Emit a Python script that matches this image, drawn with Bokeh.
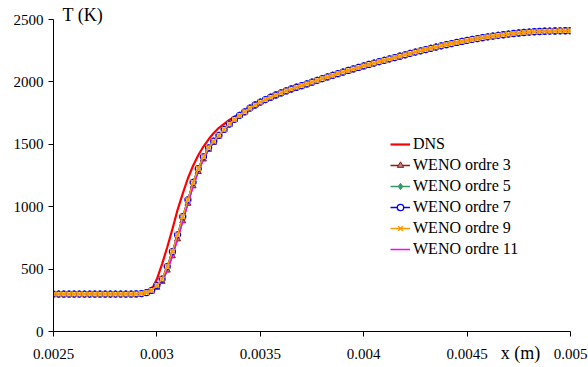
from bokeh.plotting import figure
from bokeh.models import (Legend, LegendItem, Title, FixedTicker, Range1d,
                          CustomJSTickFormatter, LinearAxis)
from bokeh.embed import file_html
from bokeh.resources import INLINE

# ---------------- data ----------------
x_ticks = [0.0025, 0.003, 0.0035, 0.004, 0.0045, 0.005]
x_tick_labels = ["0.0025", "0.003", "0.0035", "0.004", "0.0045", "0.005"]
y_ticks = [0, 500, 1000, 1500, 2000, 2500]

x_dns = [0.0025, 0.0028, 0.0029, 0.00295, 0.002975, 0.003, 0.003025, 0.00305, 0.003075,
         0.0031, 0.003125, 0.00315, 0.003175, 0.0032, 0.003225, 0.00325, 0.003275, 0.0033,
         0.00335, 0.0034, 0.00345, 0.0035, 0.0036, 0.0037, 0.0038, 0.0039, 0.004, 0.0042,
         0.0044, 0.0046, 0.0048, 0.005]
t_dns = [300, 300, 301, 308, 335, 420, 540, 675, 820,
         975, 1105, 1228, 1328, 1412, 1482, 1540, 1590, 1632,
         1695, 1745, 1792, 1838, 1912, 1970, 2026, 2079, 2128, 2217,
         2298, 2361, 2399, 2410]

x_weno = [0.0025, 0.002525, 0.00255, 0.002575, 0.0026, 0.002625, 0.00265, 0.002675,
          0.0027, 0.002725, 0.00275, 0.002775, 0.0028, 0.002825, 0.00285, 0.002875,
          0.0029, 0.002925, 0.00295, 0.002975, 0.003, 0.003025, 0.00305, 0.003075,
          0.0031, 0.003125, 0.00315, 0.003175, 0.0032, 0.003225, 0.00325, 0.003275,
          0.0033, 0.003325, 0.00335, 0.003375, 0.0034, 0.003425, 0.00345, 0.003475,
          0.0035, 0.003525, 0.00355, 0.003575, 0.0036, 0.003625, 0.00365, 0.003675,
          0.0037, 0.003725, 0.00375, 0.003775, 0.0038, 0.003825, 0.00385, 0.003875,
          0.0039, 0.003925, 0.00395, 0.003975, 0.004, 0.004025, 0.00405, 0.004075,
          0.0041, 0.004125, 0.00415, 0.004175, 0.0042, 0.004225, 0.00425, 0.004275,
          0.0043, 0.004325, 0.00435, 0.004375, 0.0044, 0.004425, 0.00445, 0.004475,
          0.0045, 0.004525, 0.00455, 0.004575, 0.0046, 0.004625, 0.00465, 0.004675,
          0.0047, 0.004725, 0.00475, 0.004775, 0.0048, 0.004825, 0.00485, 0.004875,
          0.0049, 0.004925, 0.00495, 0.004975, 0.005]

# WENO ordres 5, 7, 9 (superposed)
t_weno_579 = [300, 300, 300, 300, 300, 300, 300, 300,
              300, 300, 300, 300, 300, 300, 300, 300,
              301, 304, 312, 330, 370, 420, 520, 640,
              775, 920, 1055, 1195, 1305, 1400, 1472, 1525,
              1572, 1620, 1662, 1700, 1732, 1760, 1790, 1815,
              1838, 1858, 1877, 1895, 1912, 1928, 1943, 1957,
              1970, 1984, 1998, 2012, 2026, 2040, 2053, 2066,
              2079, 2092, 2104, 2116, 2128, 2140, 2151, 2162,
              2173, 2184, 2195, 2206, 2217, 2228, 2239, 2249,
              2259, 2269, 2279, 2289, 2298, 2307, 2316, 2324,
              2332, 2340, 2347, 2354, 2361, 2367, 2373, 2378,
              2383, 2388, 2392, 2396, 2399, 2402, 2404, 2406,
              2407, 2408, 2409, 2410, 2410]

# WENO ordres 3, 11 (slightly delayed front)
t_weno_3_11 = [300, 300, 300, 300, 300, 300, 300, 300,
               300, 300, 300, 300, 300, 300, 300, 300,
               300, 303, 309, 322, 352, 400, 490, 605,
               740, 885, 1025, 1165, 1280, 1380, 1458, 1515,
               1565, 1614, 1657, 1696, 1729, 1760, 1790, 1815,
               1838, 1858, 1877, 1895, 1912, 1928, 1943, 1957,
               1970, 1984, 1998, 2012, 2026, 2040, 2053, 2066,
               2079, 2092, 2104, 2116, 2128, 2140, 2151, 2162,
               2173, 2184, 2195, 2206, 2217, 2228, 2239, 2249,
               2259, 2269, 2279, 2289, 2298, 2307, 2316, 2324,
               2332, 2340, 2347, 2354, 2361, 2367, 2373, 2378,
               2383, 2388, 2392, 2396, 2399, 2402, 2404, 2406,
               2407, 2408, 2409, 2410, 2410]

series_names = ["DNS", "WENO ordre 3", "WENO ordre 5", "WENO ordre 7", "WENO ordre 9", "WENO ordre 11"]
y_title = "T (K)"
x_title = "x (m)"

FONT = "Liberation Serif"

p = figure(frame_width=517, frame_height=312,
           x_range=Range1d(0.0025, 0.005), y_range=Range1d(0, 2500),
           output_backend="svg", toolbar_location=None,
           min_border_left=53, min_border_right=18, min_border_top=19, min_border_bottom=36)
p.background_fill_color = "white"
p.border_fill_color = "white"
p.outline_line_color = None
p.xgrid.visible = False
p.ygrid.visible = False

for ax in (p.xaxis[0], p.yaxis[0]):
    ax.axis_line_color = "black"
    ax.axis_line_width = 1
    ax.major_tick_line_color = "black"
    ax.major_tick_out = 5
    ax.major_tick_in = 0
    ax.minor_tick_line_color = None
    ax.major_label_text_font = FONT
    ax.major_label_text_font_size = "15px"
    ax.major_label_text_color = "black"

p.xaxis.ticker = FixedTicker(ticks=x_ticks)
p.xaxis.formatter = CustomJSTickFormatter(args=dict(labels=x_tick_labels), code="return labels[index];")
p.xaxis.major_label_standoff = 12
p.yaxis.ticker = FixedTicker(ticks=y_ticks)
p.yaxis.major_label_standoff = 5

# second (label-only) axis carrying the x title between the last two tick labels
x_title_axis = LinearAxis(ticker=FixedTicker(ticks=[0.004758]),
                          formatter=CustomJSTickFormatter(args=dict(t=x_title), code="return t;"),
                          axis_line_color=None, major_tick_line_color=None,
                          minor_tick_line_color=None, major_tick_out=0, major_tick_in=0,
                          major_label_standoff=-19, major_label_text_font=FONT,
                          major_label_text_font_size="18px", major_label_text_color="black")
p.add_layout(x_title_axis, "below")

r_dns = p.line(x_dns, t_dns, line_color="#FF0000", line_width=2.2)

r3l = p.line(x_weno, t_weno_3_11, line_color="#8B1A1A", line_width=1.5)
r3m = p.scatter(x_weno, t_weno_3_11, marker="triangle", size=6, line_color="#8B1A1A",
                fill_color="#C08080", line_width=1)
r11 = p.line(x_weno, t_weno_3_11, line_color="#FF00FF", line_width=1.5)
r5l = p.line(x_weno, t_weno_579, line_color="#339966", line_width=1.5)
r5m = p.scatter(x_weno, t_weno_579, marker="diamond", size=7, line_color="#339966",
                fill_color="#339966", line_width=1)
r7l = p.line(x_weno, t_weno_579, line_color="#0000FF", line_width=1.5)
r7m = p.scatter(x_weno, t_weno_579, marker="circle", size=6, line_color="#0000FF",
                fill_color="white", line_width=1.3)
r9l = p.line(x_weno, t_weno_579, line_color="#FF9900", line_width=1.5)
r9m = p.scatter(x_weno, t_weno_579, marker="x", size=7, line_color="#FF9900", line_width=1.6)

legend = Legend(items=[
    LegendItem(label=series_names[0], renderers=[r_dns]),
    LegendItem(label=series_names[1], renderers=[r3l, r3m]),
    LegendItem(label=series_names[2], renderers=[r5l, r5m]),
    LegendItem(label=series_names[3], renderers=[r7l, r7m]),
    LegendItem(label=series_names[4], renderers=[r9l, r9m]),
    LegendItem(label=series_names[5], renderers=[r11]),
], location=(337, 73))
legend.glyph_width = 20
legend.glyph_height = 16
legend.label_height = 16
legend.label_standoff = 3
legend.spacing = 3
legend.padding = 0
legend.margin = 0
legend.border_line_color = None
legend.background_fill_alpha = 0
legend.label_text_font = FONT
legend.label_text_font_size = "16px"
legend.label_text_color = "black"
p.add_layout(legend)

p.add_layout(Title(text=y_title, align="left", offset=9, standoff=-10,
                   text_font=FONT, text_font_size="18px", text_font_style="normal",
                   text_color="black"), "above")

open("out.html", "w").write(file_html(p, INLINE))
